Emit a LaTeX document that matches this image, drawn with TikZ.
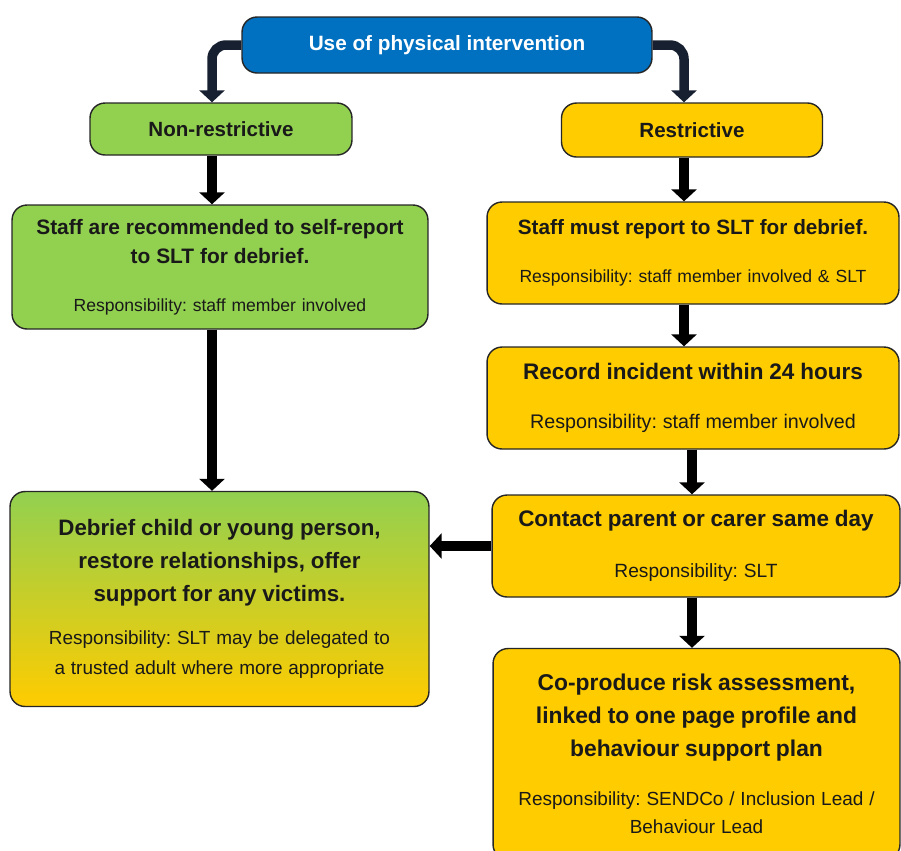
\documentclass[tikz,border=0pt]{standalone}
\usepackage{fontspec}
\setmainfont{Liberation Sans}
\usepackage{tikz}
\usetikzlibrary{arrows.meta, positioning}
\definecolor{topblue}{RGB}{0, 112, 192}
\definecolor{softgreen}{RGB}{146, 208, 80}
\definecolor{goldyellow}{RGB}{255, 204, 0}
\definecolor{darknavy}{RGB}{22, 32, 48}
\frenchspacing

\begin{document}
\begin{tikzpicture}[x=0.02cm, y=-0.02cm,
    card/.style={draw=black!85, line width=0.8pt, rounded corners=0.3cm, fill=#1,
                 align=center, inner sep=2pt, text=black!90},
    flow/.style={line width=0.19cm, -{Triangle[width=0.5cm, length=0.24cm]}},
    branch/.style={flow, draw=darknavy, rounded corners=0.28cm}
]
    \useasboundingbox (0,0) rectangle (901,850);

    % top level
    \node[card=topblue, text=white, minimum width=8.2cm, minimum height=1.12cm,
          font=\fontsize{11.8}{14}\selectfont\bfseries] (use) at (447,45) {Use of physical intervention};
    \node[card=softgreen, minimum width=5.24cm, minimum height=1.04cm,
          font=\fontsize{11.7}{14}\selectfont\bfseries] (nonrestr) at (221,129) {Non-restrictive};
    \node[card=goldyellow, minimum width=5.22cm, minimum height=1.08cm,
          font=\fontsize{11.7}{14}\selectfont\bfseries] (restr) at (692,130) {Restrictive};

    % left column
    \node[card=softgreen, minimum width=8.32cm, minimum height=2.48cm, text width=8.1cm] (selfrep) at (220,267)
        {{\fontsize{11.9}{17}\selectfont\bfseries Staff are recommended to self-report\\ to SLT for debrief.\par}
         \vspace{14pt}
         {\fontsize{10}{13}\selectfont Responsibility: staff member involved\par}};
    \node[card=softgreen, top color=softgreen, bottom color=goldyellow, minimum width=8.38cm,
          minimum height=4.3cm, text width=8.1cm] (debrief) at (219.5,599)
        {{\fontsize{12.7}{18.7}\selectfont\bfseries Debrief child or young person,\\ restore relationships, offer\\ support for any victims.\par}
         \vspace{7pt}
         {\fontsize{10.8}{17.5}\selectfont Responsibility: SLT may be delegated to\\ a trusted adult where more appropriate\par}};

    % right column
    \node[card=goldyellow, minimum width=8.24cm, minimum height=2.04cm, text width=8cm] (mustrep) at (693,253)
        {{\fontsize{11.8}{14}\selectfont\bfseries Staff must report to SLT for debrief.\par}
         \vspace{14pt}
         {\fontsize{10}{13}\selectfont Responsibility: staff member involved \& SLT\par}};
    \node[card=goldyellow, minimum width=8.24cm, minimum height=2.04cm, text width=8cm] (record) at (693,398)
        {{\fontsize{12.8}{15}\selectfont\bfseries Record incident within 24 hours\par}
         \vspace{14pt}
         {\fontsize{11.2}{14}\selectfont Responsibility: staff member involved\par}};
    \node[card=goldyellow, minimum width=8.16cm, minimum height=2.04cm, text width=7.9cm] (contact) at (696,546)
        {{\fontsize{12.8}{15}\selectfont\bfseries Contact parent or carer same day\par}
         \vspace{15pt}
         {\fontsize{10.9}{14}\selectfont Responsibility: SLT\par}};
    \node[card=goldyellow, minimum width=8.14cm, minimum height=4.22cm, text width=7.9cm] (coprod) at (696.5,754)
        {{\fontsize{13}{18.7}\selectfont\bfseries Co-produce risk assessment,\\ linked to one page profile and\\ behaviour support plan\par}
         \vspace{12pt}
         {\fontsize{10.8}{16}\selectfont Responsibility: SENDCo / Inclusion Lead /\\ Behaviour Lead\par}};

    % arrow columns
    \coordinate (leftx) at (212,0);
    \coordinate (rightx) at (684,0);
    \coordinate (lowx) at (692,0);

    \draw[branch] (use.west) -| (leftx |- nonrestr.north);
    \draw[branch] (use.east) -| (rightx |- restr.north);
    \draw[flow] (leftx |- nonrestr.south) -- (leftx |- selfrep.north);
    \draw[flow] (leftx |- selfrep.south) -- (leftx |- debrief.north);
    \draw[flow] (rightx |- restr.south) -- (rightx |- mustrep.north);
    \draw[flow] (rightx |- mustrep.south) -- (rightx |- record.north);
    \draw[flow] (lowx |- record.south) -- (lowx |- contact.north);
    \draw[flow] (contact.west) -- (contact.west -| debrief.east);
    \draw[flow] (lowx |- contact.south) -- (lowx |- coprod.north);
\end{tikzpicture}
\end{document}
